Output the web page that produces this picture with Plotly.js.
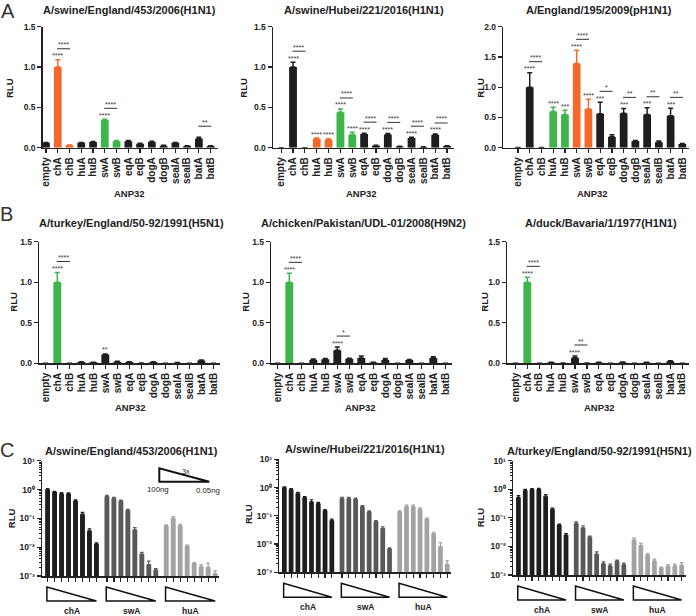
<!DOCTYPE html>
<html><head><meta charset="utf-8">
<script src="https://cdn.plot.ly/plotly-3.0.1.min.js"></script>
<style>html,body{margin:0;padding:0;background:#fff}#chart{width:696px;height:616px}</style>
</head><body><div id="chart"></div>
<script>
// ---------------- DATA ----------------
const categories = ['empty','chA','chB','huA','huB','swA','swB','eqA','eqB','dogA','dogB','sealA','sealB','batA','batB'];
const xAxisLabel = 'ANP32';
const yAxisLabel = 'RLU';

// Panel A1
const a1Title = 'A/swine/England/453/2006(H1N1)';
const a1Values = [0.06,1.0,0.03,0.06,0.07,0.34,0.08,0.08,0.05,0.07,0.025,0.06,0.02,0.11,0.02];
const a1Errors = [0.005,0.09,0.004,0.006,0.007,0.012,0.008,0.01,0.005,0.01,0.004,0.006,0.004,0.02,0.003];
const a1Orange = ['chA','chB'];
const a1Green = ['swA','swB'];
const a1Stars = [['chA','****'],['swA','****']];
const a1Pairs = [['chA','chB','****'],['swA','swB','****'],['batA','batB','**']];

// Panel A2
const a2Title = 'A/swine/Hubei/221/2016(H1N1)';
const a2Values = [0,1.0,0,0.11,0.10,0.44,0.16,0.17,0.025,0.165,0.015,0.12,0.01,0.16,0.02];
const a2Errors = [0,0.06,0,0.01,0.01,0.04,0.03,0.01,0.004,0.012,0.003,0.01,0.002,0.01,0.004];
const a2Orange = ['huA','huB'];
const a2Green = ['swA','swB'];
const a2Stars = [['chA','****'],['huA','****'],['huB','****'],['swA','****'],['swB','****'],['eqA','****'],['dogA','****'],['sealA','****'],['batA','****']];
const a2Pairs = [['chA','chB','****'],['swA','swB','****'],['eqA','eqB','****'],['dogA','dogB','****'],['sealA','sealB','****'],['batA','batB','****']];

// Panel A3
const a3Title = 'A/England/195/2009(pH1N1)';
const a3Values = [0.005,1.0,0.005,0.60,0.55,1.39,0.64,0.56,0.18,0.57,0.11,0.55,0.09,0.53,0.06];
const a3Errors = [0,0.24,0,0.07,0.07,0.22,0.16,0.19,0.035,0.08,0.01,0.11,0.02,0.12,0.01];
const a3Orange = ['swA','swB'];
const a3Green = ['huA','huB'];
const a3Stars = [['chA','****'],['huA','****'],['huB','***'],['swA','****'],['swB','****'],['eqA','***'],['dogA','***'],['sealA','***'],['batA','***']];
const a3Pairs = [['chA','chB','****'],['swA','swB','****'],['eqA','eqB','*'],['dogA','dogB','**'],['sealA','sealB','**'],['batA','batB','**']];

// Panel B1
const b1Title = 'A/turkey/England/50-92/1991(H5N1)';
const b1Values = [0,1.0,0,0.015,0.012,0.11,0.02,0.015,0.004,0.015,0,0.008,0,0.035,0];
const b1Errors = [0,0.12,0,0.003,0.002,0.005,0.004,0.003,0,0.004,0,0.002,0,0.005,0];
const b1Green = ['chA'];
const b1Stars = [['chA','****'],['swA','**']];
const b1Pairs = [['chA','chB','****']];

// Panel B2
const b2Title = 'A/chicken/Pakistan/UDL-01/2008(H9N2)';
const b2Values = [0,1.0,0,0.045,0.05,0.16,0.055,0.065,0.01,0.04,0,0.04,0,0.065,0];
const b2Errors = [0,0.11,0,0.008,0.008,0.04,0.008,0.025,0.003,0.02,0,0.008,0,0.015,0];
const b2Green = ['chA'];
const b2Stars = [['chA','****'],['swA','****']];
const b2Pairs = [['chA','chB','****'],['swA','swB','*']];

// Panel B3
const b3Title = 'A/duck/Bavaria/1/1977(H1N1)';
const b3Values = [0,1.0,0,0.01,0.005,0.07,0.005,0.01,0,0.012,0,0.01,0,0.025,0];
const b3Errors = [0,0.06,0,0.003,0,0.02,0,0.002,0,0.003,0,0.002,0,0.006,0];
const b3Green = ['chA'];
const b3Stars = [['chA','****'],['swA','****']];
const b3Pairs = [['chA','chB','****'],['swA','swB','**']];

// Row C: dose titrations (100ng -> 0.05ng, 3x dilutions)
const doseGroups = ['chA','swA','huA'];
const doseInsetLabels = ['100ng','0.05ng','3x'];
const logTickLabels = ['10⁻³','10⁻²','10⁻¹','10⁰','10¹'];

const c1Title = 'A/swine/England/453/2006(H1N1)';
const c1ChA = [1.0,0.82,0.72,0.72,0.40,0.14,0.037,0.013];
const c1ChAErr = [0.07,0.04,0.06,0.05,0.04,0.02,0.006,0.001];
const c1SwA = [0.57,0.50,0.40,0.19,0.040,0.0058,0.0025,0.0016];
const c1SwAErr = [0.06,0.04,0.03,0.015,0.008,0.0008,0.0008,0.0002];
const c1HuA = [0.055,0.10,0.055,0.011,0.0027,0.0021,0.002,0.0012];
const c1HuAErr = [0.005,0.015,0.007,0.0008,0.0002,0.0004,0.0008,0.0003];

const c2Title = 'A/swine/Hubei/221/2016(H1N1)';
const c2ChA = [1.0,0.85,0.63,0.44,0.31,0.27,0.155,0.068];
const c2ChAErr = [0.05,0.06,0.04,0.04,0.06,0.03,0.01,0.008];
const c2SwA = [0.42,0.42,0.39,0.21,0.14,0.063,0.036,0.0068];
const c2SwAErr = [0.03,0.03,0.03,0.02,0.01,0.005,0.005,0.0005];
const c2HuA = [0.14,0.21,0.21,0.17,0.078,0.023,0.0082,0.0019];
const c2HuAErr = [0.01,0.03,0.03,0.02,0.005,0.003,0.003,0.0007];

const c3Title = 'A/turkey/England/50-92/1991(H5N1)';
const c3ChA = [0.52,0.90,0.98,1.0,0.57,0.20,0.056,0.025];
const c3ChAErr = [0.08,0.1,0.08,0.08,0.08,0.02,0.004,0.003];
const c3SwA = [0.065,0.045,0.021,0.0054,0.0025,0.0021,0.003,0.0023];
const c3SwAErr = [0.008,0.008,0.002,0.001,0.0004,0.0003,0.0003,0.0003];
const c3HuA = [0.017,0.011,0.005,0.0031,0.0018,0.002,0.0021,0.0022];
const c3HuAErr = [0.003,0.002,0.0006,0.0005,0.0001,0.0003,0.0003,0.0005];

// ---------------- STYLE / LAYOUT ----------------
const W = 696, H = 616;
const fx = p => p / W, fy = p => 1 - p / H;
const FONT = 'Liberation Sans, Arial, Helvetica, sans-serif';
const ORANGE = '#F26A2B', GREEN = '#3DB54A', BLACK = '#1E1E1E', TXT = '#222222';
const DOSE_COLORS = ['#1E1E1E', '#595959', '#A3A3A3'];

const traces = [], annotations = [], shapes = [];
const layout = {
  width: W, height: H, margin: {l:0, r:0, t:0, b:0},
  paper_bgcolor: '#fff', plot_bgcolor: '#fff', showlegend: false,
  barmode: 'overlay', font: {family: FONT, color: TXT},
  annotations: annotations, shapes: shapes
};

function axNames(i) {
  const s = i === 1 ? '' : String(i);
  return {xa: 'xaxis' + s, ya: 'yaxis' + s, xr: 'x' + s, yr: 'y' + s};
}

function text(str, xpx, ypx, size, opts) {
  annotations.push(Object.assign({
    text: str, xref: 'paper', yref: 'paper', x: fx(xpx), y: fy(ypx),
    xanchor: 'center', yanchor: 'middle', showarrow: false,
    font: {family: FONT, size: size, color: TXT, weight: 700}
  }, opts || {}));
}

function barPanel(i, frame, title, vals, errs, orange, green, stars, pairs) {
  const n = axNames(i);
  layout[n.xa] = {
    domain: [fx(frame.x0), fx(frame.x1)], anchor: n.yr, type: 'category',
    categoryorder: 'array', categoryarray: categories, range: frame.xr,
    tickmode: 'array', tickvals: categories, ticktext: categories,
    tickangle: -90, ticks: 'outside', ticklen: 4, tickwidth: 1.2, tickcolor: TXT,
    showline: true, linewidth: 1.5, linecolor: TXT, showgrid: false, zeroline: false,
    tickfont: {family: FONT, size: 10, color: TXT, weight: 700}, fixedrange: true
  };
  layout[n.ya] = {
    domain: [fy(frame.yb), fy(frame.yt)], anchor: n.xr, range: frame.yr,
    tickmode: 'linear', tick0: 0, dtick: 0.5, tickformat: '.1f',
    ticks: 'outside', ticklen: 4, tickwidth: 1.2, tickcolor: TXT,
    showline: true, linewidth: 1.5, linecolor: TXT, showgrid: false, zeroline: false,
    tickfont: {family: FONT, size: 8.5, color: TXT, weight: 700}, fixedrange: true
  };
  const colorOf = c => orange.includes(c) ? ORANGE : (green.includes(c) ? GREEN : BLACK);
  [BLACK, ORANGE, GREEN].forEach(col => {
    const idx = categories.map((c, k) => k).filter(k => colorOf(categories[k]) === col);
    if (!idx.length) return;
    traces.push({
      type: 'bar', xaxis: n.xr, yaxis: n.yr,
      x: idx.map(k => categories[k]), y: idx.map(k => vals[k]), width: 0.66,
      marker: {color: col, line: {width: 0}},
      error_y: {type: 'data', symmetric: false,
        array: idx.map(k => errs[k] > 0 ? errs[k] : null),
        arrayminus: idx.map(() => 0), color: col, thickness: 1.5, width: 2.5},
      hoverinfo: 'skip'
    });
  });
  const top = c => { const k = categories.indexOf(c); return vals[k] + errs[k]; };
  stars.forEach(([c, lab]) => {
    annotations.push({text: lab, xref: n.xr, yref: n.yr, x: categories.indexOf(c), y: top(c),
      xanchor: 'center', yanchor: 'bottom', yshift: -1.5, showarrow: false,
      font: {family: FONT, size: 7, color: '#333'}});
  });
  pairs.forEach(([a, b, lab]) => {
    const ia = categories.indexOf(a), ib = categories.indexOf(b);
    const anchor = Math.max(top(a), top(b));
    shapes.push({type: 'line', xref: n.xr, yref: n.yr, x0: ia - 0.05, x1: ib + 0.05,
      ysizemode: 'pixel', yanchor: anchor, y0: 11, y1: 11, line: {color: '#333', width: 1}});
    annotations.push({text: lab, xref: n.xr, yref: n.yr, x: (ia + ib) / 2, y: anchor,
      xanchor: 'center', yanchor: 'bottom', yshift: 9.5, showarrow: false,
      font: {family: FONT, size: 7, color: '#333'}});
  });
  text(title, frame.tx, frame.ty, 11);
  text(yAxisLabel, frame.rx, frame.ry, 9.5, {textangle: -90});
  text(xAxisLabel, frame.ax, frame.ay, 9.5);
}

function dosePanel(i, frame, title, series, errors) {
  const n = axNames(i);
  const pos = [], groupPos = [];
  doseGroups.forEach((g, gi) => {
    const p = series[gi].map((v, k) => gi * 8.5 + k);
    groupPos.push(p); pos.push(...p);
  });
  const minor = [];
  for (let d = -3; d < 1; d++) for (let m = 2; m <= 9; m++) minor.push(m * Math.pow(10, d));
  layout[n.xa] = {
    domain: [fx(frame.x0), fx(frame.x1)], anchor: n.yr, range: frame.xr,
    tickmode: 'array', tickvals: pos, showticklabels: false,
    ticks: 'outside', ticklen: 4, tickwidth: 1.2, tickcolor: TXT,
    showline: true, linewidth: 1.5, linecolor: TXT, showgrid: false, zeroline: false, fixedrange: true
  };
  const decades = [0.001, 0.01, 0.1, 1, 10];
  layout[n.ya] = {
    domain: [fy(frame.yb), fy(frame.yt)], anchor: n.xr, type: 'log', range: [-3, 1],
    tickmode: 'array', tickvals: decades, ticktext: logTickLabels,
    ticks: 'outside', ticklen: 4, tickwidth: 1.2, tickcolor: TXT,
    minor: {tickmode: 'array', tickvals: minor, ticks: 'outside', ticklen: 2, tickwidth: 1, tickcolor: TXT, showgrid: false},
    showline: true, linewidth: 1.5, linecolor: TXT, showgrid: false, zeroline: false,
    tickfont: {family: FONT, size: 8.5, color: TXT, weight: 700}, fixedrange: true
  };
  doseGroups.forEach((g, gi) => {
    traces.push({
      type: 'bar', xaxis: n.xr, yaxis: n.yr, x: groupPos[gi], y: series[gi], width: 0.7,
      marker: {color: DOSE_COLORS[gi], line: {width: 0}},
      error_y: {type: 'data', symmetric: false, array: errors[gi], arrayminus: errors[gi].map(() => 0),
        color: DOSE_COLORS[gi], thickness: 1.2, width: 1.8},
      hoverinfo: 'skip'
    });
    const s = groupPos[gi][0] - 0.1, e = groupPos[gi][groupPos[gi].length - 1];
    const t = frame.yb + 11, b = frame.yb + 25;
    shapes.push({type: 'path', xref: n.xr, yref: 'paper',
      path: `M${s},${fy(t)} L${s},${fy(b)} L${e},${fy(b)} Z`,
      line: {color: '#111', width: 1.5}, fillcolor: 'rgba(0,0,0,0)'});
    annotations.push({text: g, xref: n.xr, yref: 'paper', x: (s + e) / 2, y: fy(frame.yb + 35),
      xanchor: 'center', yanchor: 'middle', showarrow: false,
      font: {family: FONT, size: 8.5, color: TXT, weight: 700}});
  });
  text(title, frame.tx, frame.ty, 11);
  text(yAxisLabel, frame.rx, frame.ry, 9.5, {textangle: -90});
}

barPanel(1, {x0: 42.7, x1: 217.7, xr: [-0.28, 14.6], yt: 26.7, yb: 147.7, yr: [0, 1.5], tx: 129, ty: 10, rx: 10, ry: 88, ax: 129, ay: 193},
  a1Title, a1Values, a1Errors, a1Orange, a1Green, a1Stars, a1Pairs);
barPanel(2, {x0: 273, x1: 453.6, xr: [-0.69, 14.55], yt: 26.7, yb: 147.7, yr: [0, 1.5], tx: 364, ty: 10, rx: 243.7, ry: 88, ax: 362, ay: 193},
  a2Title, a2Values, a2Errors, a2Orange, a2Green, a2Stars, a2Pairs);
barPanel(3, {x0: 503.3, x1: 688.8, xr: [-1.25, 14.55], yt: 26.7, yb: 147.7, yr: [0, 2], tx: 599, ty: 10, rx: 480.7, ry: 88, ax: 592, ay: 193},
  a3Title, a3Values, a3Errors, a3Orange, a3Green, a3Stars, a3Pairs);
barPanel(4, {x0: 39.3, x1: 219.9, xr: [-0.5, 14.55], yt: 241.7, yb: 363.3, yr: [0, 1.5], tx: 131.7, ty: 223, rx: 12.7, ry: 302, ax: 130, ay: 407},
  b1Title, b1Values, b1Errors, [], b1Green, b1Stars, b1Pairs);
barPanel(5, {x0: 271.3, x1: 451.9, xr: [-0.5, 14.55], yt: 241.7, yb: 363.3, yr: [0, 1.5], tx: 363.7, ty: 223, rx: 244.7, ry: 302, ax: 360, ay: 407},
  b2Title, b2Values, b2Errors, [], b2Green, b2Stars, b2Pairs);
barPanel(6, {x0: 507.3, x1: 688.8, xr: [-0.68, 14.55], yt: 241.7, yb: 363.3, yr: [0, 1.5], tx: 600.7, ty: 223, rx: 483.7, ry: 302, ax: 599, ay: 407},
  b3Title, b3Values, b3Errors, [], b3Green, b3Stars, b3Pairs);

dosePanel(7, {x0: 42, x1: 219.3, xr: [-0.8, 24.6], yt: 460.7, yb: 576, tx: 131.7, ty: 450.7, rx: 11.2, ry: 518},
  c1Title, [c1ChA, c1SwA, c1HuA], [c1ChAErr, c1SwAErr, c1HuAErr]);
dosePanel(8, {x0: 279.3, x1: 451.3, xr: [-0.74, 24.6], yt: 459.3, yb: 572.3, tx: 365, ty: 449.3, rx: 248, ry: 514},
  c2Title, [c2ChA, c2SwA, c2HuA], [c2ChAErr, c2SwAErr, c2HuAErr]);
dosePanel(9, {x0: 513, x1: 685.7, xr: [-0.8, 24.6], yt: 460.7, yb: 575, tx: 599, ty: 450.7, rx: 480.3, ry: 517},
  c3Title, [c3ChA, c3SwA, c3HuA], [c3ChAErr, c3SwAErr, c3HuAErr]);

// Inset dilution legend in C1
shapes.push({type: 'path', xref: 'paper', yref: 'paper',
  path: `M${fx(159.3)},${fy(468.3)} L${fx(159.3)},${fy(481.7)} L${fx(209.3)},${fy(481.7)} Z`,
  line: {color: '#111', width: 2}, fillcolor: 'rgba(0,0,0,0)'});
text(doseInsetLabels[0], 157.5, 489.5, 7.8, {font: {family: FONT, size: 7.8, color: TXT}});
text(doseInsetLabels[1], 208.3, 490, 7.8, {font: {family: FONT, size: 7.8, color: TXT}});
text(doseInsetLabels[2], 185.5, 471.5, 7.3, {font: {family: FONT, size: 7.3, color: TXT}});

// Panel letters
text('A', 7.5, 11, 20, {font: {family: FONT, size: 20, color: '#333'}});
text('B', 6.3, 213.7, 20, {font: {family: FONT, size: 20, color: '#333'}});
text('C', 6.7, 450, 20, {font: {family: FONT, size: 20, color: '#333'}});

Plotly.newPlot('chart', traces, layout, {staticPlot: true, displayModeBar: false});
</script>
</body></html>
